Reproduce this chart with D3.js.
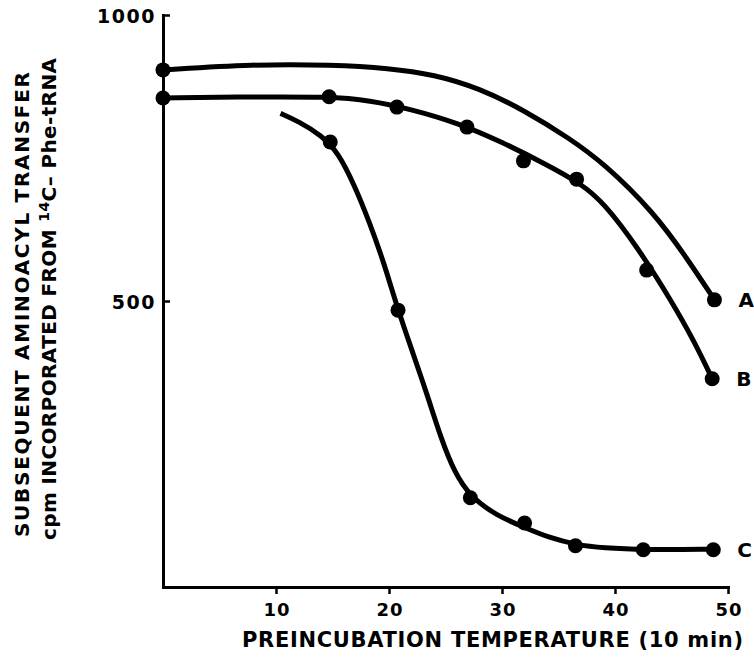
<!DOCTYPE html>
<html>
<head>
<meta charset="utf-8">
<script src="https://cdn.jsdelivr.net/npm/d3@7"></script>
<style>
body{margin:0;background:#fff}
svg{display:block}
text{font-family:"DejaVu Sans","Liberation Sans",Arial,sans-serif;font-weight:bold;fill:#000}
</style>
</head>
<body>
<svg id="viz" width="754" height="666"></svg>
<script>
// values
var xTicks = [10,20,30,40,50]
var yTicks = [500,1000]
var seriesNames = ["A","B","C"]

// measured points (temperature, cpm)
var dotsA = [[0,904],[48.8,502]]
var dotsB = [[0,855],[14.7,857],[20.7,839],[26.9,804],[31.9,745],[36.6,713],[42.8,554],[48.6,364]]
var dotsC = [[14.8,778],[20.8,484],[27.2,156],[32.0,112],[36.5,72],[42.5,65],[48.7,65]]

// the hand drawn curves through them
var fitA = [[0,904],[8,914],[15,913],[20,907],[24,896],[28,872],[32,833],[36,784],[39,741],[43.4,656],[46.4,574],[48.8,502]]
var fitB = [[0,855],[8,857],[14.7,857],[18.3,851],[22,835],[26,812],[30,778],[34,738],[37,705],[39,672],[42,594],[45,500],[47,430],[48.6,364]]
var fitC = [[10.4,828],[12,814],[14,790],[15.5,760],[17,700],[18.3,636],[19.5,570],[20.8,484],[22.1,410],[23.4,335],[24.6,260],[25.8,200],[27.2,158],[29.5,125],[32,104],[34.2,86],[36.5,74],[39,68],[42.5,65],[48.7,66]]

var svg = d3.select("#viz")

var x = d3.scaleLinear().domain([0,50]).range([163,728])
var y = d3.scaleLinear().domain([0,1000]).range([587,15])

// x axis, ticks point down
var gx = svg.append("g")
    .attr("transform","translate(0,587)")
    .call(d3.axisBottom(x).tickValues(xTicks).tickSize(7).tickSizeOuter(0).tickPadding(9))
gx.attr("font-family",null).attr("font-size",null)
gx.select(".domain").attr("stroke-width",3).attr("stroke-linecap","square")
gx.selectAll(".tick line").attr("stroke-width",2.5)
gx.selectAll(".tick text").style("font-size","18px").style("letter-spacing","1px").attr("dx","0.5px")

// y axis, ticks point right
var gy = svg.append("g")
    .attr("transform","translate(163,0)")
    .call(d3.axisLeft(y).tickValues(yTicks).tickFormat(d3.format("d")).tickSize(-7).tickSizeOuter(0).tickPadding(7))
gy.attr("font-family",null).attr("font-size",null)
gy.select(".domain").attr("stroke-width",3).attr("stroke-linecap","square")
gy.selectAll(".tick line").attr("stroke-width",2.5)
gy.selectAll(".tick text").style("font-size","19px").style("letter-spacing","1.5px").attr("dy","0.4em")

// curves
var line = d3.line()
    .x(d => x(d[0]))
    .y(d => y(d[1]))
    .curve(d3.curveBasis)

var fits = [fitA, fitB, fitC]
var dots = [dotsA, dotsB, dotsC]

fits.forEach(f => {
    svg.append("path")
        .attr("d", line(f))
        .attr("fill","none")
        .attr("stroke","#000")
        .attr("stroke-width",5)
        .attr("stroke-linecap","butt")
})

dots.forEach((ds, i) => {
    svg.append("g").selectAll("circle")
        .data(ds)
        .join("circle")
        .attr("cx", d => x(d[0]))
        .attr("cy", d => y(d[1]))
        .attr("r", 7.5)
        .attr("fill","#000")

    var last = ds[ds.length-1]
    svg.append("text")
        .attr("x", x(last[0]) + 24)
        .attr("y", y(last[1]) + 7)
        .style("font-size","20px")
        .text(seriesNames[i])
})

// stretch a line of text to a given length by spacing its letters
function spread(t, len){
    var n = t.node()
    var w = n.getComputedTextLength()
    var chars = n.textContent.length
    t.style("letter-spacing", ((len - w)/(chars-1)) + "px")
}

// axis titles
var xt = svg.append("text")
    .attr("x",242).attr("y",647)
    .style("font-size","21px")
    .text("PREINCUBATION TEMPERATURE (10 min)")
spread(xt, 501)

var yt1 = svg.append("text")
    .attr("transform","translate(29,537) rotate(-90)")
    .style("font-size","20px")
    .text("SUBSEQUENT AMINOACYL TRANSFER")
spread(yt1, 465)

var yt2 = svg.append("text")
    .attr("transform","translate(56,540) rotate(-90)")
    .style("font-size","20px")
yt2.append("tspan").text("cpm INCORPORATED FROM ")
yt2.append("tspan").attr("dy",-7).style("font-size","14px").text("14")
yt2.append("tspan").attr("dy",7).text("C\u2013 Phe-tRNA")
spread(yt2, 482)
</script>
</body>
</html>
